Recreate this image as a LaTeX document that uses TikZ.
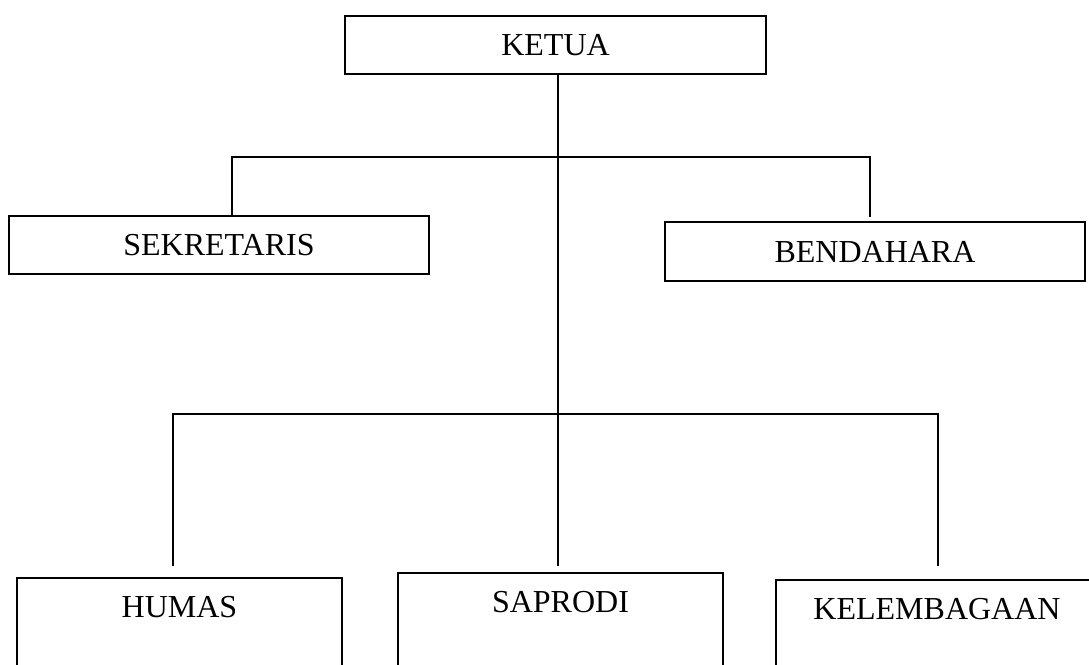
\documentclass[tikz,border=0pt]{standalone}
\usepackage{fontspec}
\setmainfont{Liberation Serif}
\usepackage{tikz}

\begin{document}
\begin{tikzpicture}
  [x=1pt, y=-1pt,
   font=\fontsize{32}{36}\selectfont,
   headbox/.style={draw, line width=1.8pt, inner sep=0pt, minimum height=58pt},
   unitbox/.style={draw, line width=1.8pt, inner sep=0pt, anchor=north,
     text height=40pt, text depth=90pt},
   link/.style={line width=1.1pt}]
\useasboundingbox (0,0) rectangle (1089,664);
\clip (0,0) rectangle (1089,664);

\node[headbox, minimum width=421pt] (ketua) at (555.5,45) {KETUA};
\node[headbox, minimum width=420pt] (sekretaris) at (219,245) {SEKRETARIS};
\node[headbox, minimum width=420pt, minimum height=59pt] (bendahara) at (875,251.5) {BENDAHARA};

\node[unitbox, minimum width=325pt] (humas) at (179.5,577) {HUMAS};
\node[unitbox, minimum width=325pt] (saprodi) at (560.5,572) {SAPRODI};
% box runs off the right edge
\node[unitbox, minimum width=360pt] (kelembagaan) at (956,579) {KELEMBAGAAN\hspace*{38pt}};

\coordinate (spine) at (558,157);
\coordinate (sekline) at (232,157);
\coordinate (benline) at (870,157);
\coordinate (humline) at (173,414);
\coordinate (kelline) at (938,414);

\draw[link] (ketua.south -| spine) -- ([yshift=6pt]saprodi.north -| spine);
\draw[link] (sekretaris.north -| sekline) -- (sekline) -- (benline)
  -- ([yshift=4pt]bendahara.north -| benline);
\draw[link] ([yshift=11pt]humas.north -| humline) -- (humline) -- (kelline)
  -- ([yshift=13pt]kelembagaan.north -| kelline);
\end{tikzpicture}
\end{document}
